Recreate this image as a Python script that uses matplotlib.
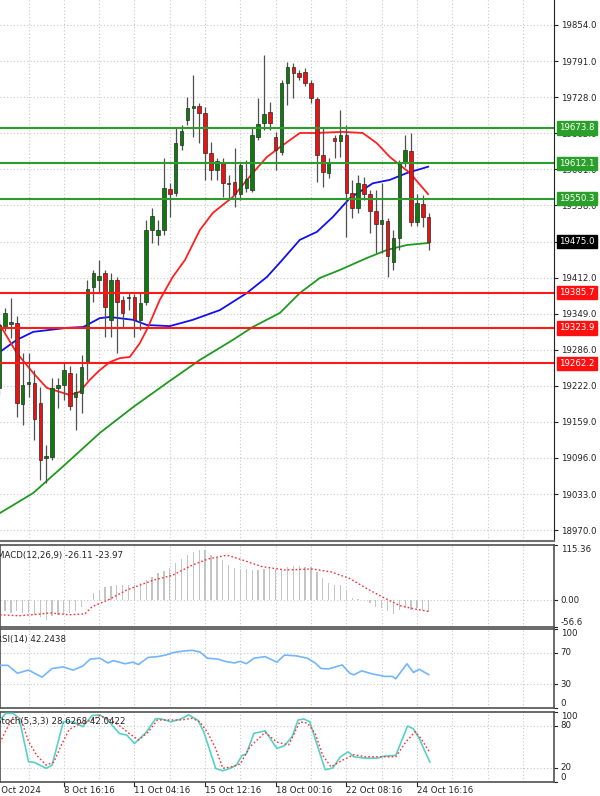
import matplotlib
matplotlib.use("Agg")
import matplotlib.pyplot as plt
from matplotlib.patches import Rectangle

plt.rcParams['font.family'] = 'DejaVu Sans'

# candle data, first candle is the one cut at the left edge (index -1)
opens = [19219, 19323.8, 19331, 19332.5, 19190.8, 19226, 19227.5, 19192.5, 19096, 19098,
         19218.8, 19224, 19245, 19203, 19210, 19262.5, 19395.5, 19408, 19420, 19337.8,
         19407.8, 19372.8, 19376, 19378, 19337.8, 19369, 19495, 19486.5, 19495, 19567,
         19560, 19644, 19687.8, 19708.8, 19712.3, 19700, 19630, 19600, 19612.5, 19578,
         19579, 19558, 19568.8, 19565, 19658, 19682.5, 19701.8, 19658, 19631.8, 19752.5,
         19780.5, 19770, 19771.8, 19752.5, 19724.5, 19626.5, 19595, 19656, 19651, 19661.5,
         19560, 19533.8, 19575.8, 19558, 19528.5, 19505.8, 19511, 19439, 19481, 19612.5,
         19633.5, 19509, 19541, 19518]
highs = [19338, 19358.8, 19376, 19344.8, 19280, 19280, 19250, 19220.5, 19119, 19236,
         19236, 19262.5, 19257, 19245, 19276.5, 19407.8, 19425, 19442.8, 19425, 19420,
         19413, 19380, 19385, 19383, 19385, 19512.8, 19533.8, 19512.8, 19621, 19577.5,
         19675.5, 19679, 19728, 19766.5, 19717.5, 19710.5, 19649, 19621, 19621, 19591.5,
         19638.8, 19614, 19617.8, 19675.5, 19726, 19801.5, 19719, 19667, 19757.8, 19789.3,
         19787.5, 19775, 19778.8, 19758, 19728, 19675.5, 19621, 19661.5, 19705, 19679,
         19582.8, 19591.5, 19588, 19565, 19565, 19577.5, 19516, 19495, 19618, 19661.5,
         19665, 19558, 19556.5, 19525]
lows = [19206.5, 19318.5, 19306, 19168, 19154, 19203, 19127.8, 19057.8, 19052.5, 19092.8,
        19183.8, 19197.8, 19180, 19145, 19175, 19232.8, 19369, 19385, 19308, 19308,
        19280, 19325.5, 19355, 19308, 19320, 19364, 19472.5, 19469, 19486.5, 19518,
        19555, 19635, 19679, 19658, 19647.5, 19582.8, 19582.8, 19582.8, 19553, 19547.8,
        19535.5, 19547.8, 19561.8, 19561.8, 19652.8, 19670, 19670, 19600, 19626.5, 19714,
        19726, 19758, 19747, 19717.5, 19579, 19570.5, 19586, 19621, 19623, 19483,
        19516, 19525, 19547.8, 19490, 19455, 19455, 19413, 19425, 19460, 19605.5,
        19502, 19502, 19500.5, 19460]
closes = [19329, 19350, 19334, 19192.5, 19224, 19229, 19164.5, 19092.8, 19099, 19218.8,
          19224, 19250, 19187, 19211.8, 19255.5, 19392, 19420, 19415, 19360.5, 19407.8,
          19369, 19350, 19377, 19337.8, 19367.5, 19495, 19520, 19495, 19568.8, 19558,
          19647.5, 19668.5, 19708.8, 19712.3, 19700, 19630, 19600, 19616, 19577.5, 19576,
          19558, 19609, 19584.5, 19661.5, 19680.8, 19698.3, 19682.5, 19635, 19752.5, 19780.5,
          19770, 19763, 19752.5, 19726, 19626.5, 19596.8, 19614.3, 19651, 19661.5, 19560,
          19533.8, 19577.5, 19558, 19528.5, 19505.8, 19512.8, 19449.8, 19481, 19612.5, 19635,
          19509, 19542.5, 19518, 19475]

# moving averages (candle index, price)
ma_red_x = [-0.85, 2.0, 4.8, 7.1, 11.0, 12.7, 14.4, 16.1, 17.8, 19.5, 21.2, 22.9, 24.3, 26.3,
            28.5, 30.6, 33.1, 35.3, 38.7, 42.1, 44.5, 46.7, 50.1, 52.7, 57.4, 60.8, 63.2,
            65.4, 67.1, 68.8, 71.9]
ma_red_y = [19329, 19280, 19245, 19219, 19206.5, 19212, 19233, 19250, 19264, 19271, 19273,
            19297, 19325, 19373, 19413, 19443, 19495, 19525, 19553, 19595, 19623, 19640,
            19665, 19665, 19667, 19665, 19647, 19623, 19609, 19595, 19558]
ma_blue_x = [-0.85, 2.0, 4.8, 10.5, 13.3, 16.1, 17.8, 21.8, 24.1, 28.0, 31.9, 36.5, 41.1,
             44.5, 46.7, 50.1, 53.0, 55.7, 58.6, 62.5, 65.4, 68.3, 71.9]
ma_blue_y = [19282, 19303, 19317, 19324, 19325.5, 19341, 19343, 19338, 19329, 19327, 19338,
             19355, 19385, 19413, 19438, 19478, 19492, 19518, 19551, 19577, 19583, 19595,
             19606]
ma_green_x = [-0.85, 4.8, 10.5, 16.1, 21.8, 27.5, 33.1, 38.7, 42.1, 46.7, 50.1, 53.5, 56.9,
              61.5, 64.9, 68.3, 71.9]
ma_green_y = [19000, 19035, 19087.5, 19140, 19185.5, 19227.5, 19267.8, 19302.8, 19325.5,
              19350, 19385, 19411.3, 19425.3, 19446.3, 19460.3, 19469, 19472.5]

resistance = [19673.8, 19612.1, 19550.3]
support = [19385.7, 19323.9, 19262.2]
last_price = 19475.0

price_ticks = [18970, 19033.1, 19096.3, 19159.4, 19222.6, 19285.7, 19348.9, 19412,
               19475.1, 19538.3, 19601.4, 19664.6, 19727.7, 19790.9, 19854]
price_labels = ['18970.0', '19033.0', '19096.0', '19159.0', '19222.0', '19286.0', '19349.0',
                '19412.0', '19475.0', '19538.0', '19601.0', '19665.0', '19728.0', '19791.0',
                '19854.0']

# MACD histogram, one per candle 0..72
macd_hist = [-24, -27, -24, -27, -28, -31, -36, -42, -33, -31, -29, -27, -24, -14, -2, 14,
             21, 28, 29, 31, 31, 32, 31, 35, 42, 49, 56, 61, 67, 77, 86, 94, 101, 105, 104,
             94, 88, 84, 73, 67, 65, 65, 63, 63, 65, 67, 65, 63, 70, 71, 71, 70, 70, 59, 46,
             35, 31, 31, 21, 4, 2, 0, -7, -14, -17, -24, -29, -21, -17, -21, -17, -21, -26]
macd_sig_x = [-0.85, 2.4, 5.6, 7.6, 10.9, 13.6, 14.8, 17.5, 20.7, 25.3, 28.5, 31.8, 34.5,
              37.7, 39.6, 43.7, 47.6, 52.2, 55.4, 58.6, 61.9, 64.6, 67.1, 69.7, 72]
macd_sig_y = [-31, -33, -30, -27, -31, -29, -14, 0, 21, 42, 52, 73, 86, 94, 87, 70, 63, 65,
              59, 45, 21, 3.5, -12, -19, -24]

rsi_x = [-0.85, 0.5, 2.1, 4.0, 6.3, 8.0, 9.9, 11.6, 13.2, 14.5, 16.1, 17.5, 18.4, 20.4, 21.7,
         22.7, 24.3, 25.9, 27.3, 28.5, 30.2, 31.8, 33.1, 34.4, 36.1, 37.4, 39.0, 40.0, 41.0,
         42.3, 44.2, 46.2, 47.5, 49.5, 51.4, 52.7, 53.7, 55.0, 57.3, 58.6, 59.3, 60.6, 62.5,
         64.5, 65.8, 66.4, 68.3, 69.4, 70.4, 72]
rsi_y = [54, 54, 44, 48, 39, 50, 52, 48, 53, 62, 63, 57, 60, 56, 58, 55, 64, 65, 67, 70, 72,
         73, 71, 63, 62, 59, 57, 59, 56, 63, 65, 58, 67, 66, 63, 57, 50, 49.5, 54.5, 44, 42,
         47, 43, 40, 40, 37, 56, 45, 49, 42.2]

stoch_x = [-0.85, 0.1, 1.4, 2.4, 4.0, 5.0, 7.0, 8.0, 9.9, 11.6, 13.2, 14.8, 16.1, 17.5, 19.4,
           20.7, 22.0, 24.0, 25.6, 26.6, 28.2, 29.9, 31.2, 32.8, 33.8, 35.8, 37.0, 38.4, 39.3,
           40.3, 41.0, 42.3, 44.2, 46.2, 47.5, 48.8, 49.8, 50.8, 51.8, 52.7, 54.4, 55.7, 57.0,
           58.3, 59.3, 61.2, 63.2, 64.5, 66.4, 68.4, 69.4, 70.4, 71.4, 72.2]
stoch_k = [88.6, 98, 98, 91, 29, 28, 19.5, 24, 86, 86, 79, 95, 96, 88, 69.5, 67, 55, 71, 90.5,
           90, 86, 90, 96, 88, 71, 19.5, 16, 20, 24, 38, 40, 69.5, 73, 48, 52, 65, 88.6, 90,
           86, 62, 17.6, 20, 36, 43, 36, 34, 34, 37, 38, 80, 76, 62, 43, 28.6]
stoch_sig_x = [-0.85, 0.1, 1.4, 2.7, 4.0, 5.4, 7.0, 8.3, 9.6, 10.9, 12.9, 14.8, 16.1, 18.1,
               19.7, 21.0, 22.7, 24.3, 25.9, 27.9, 29.9, 31.8, 33.1, 34.4, 35.8, 37.0, 38.7,
               40.0, 41.6, 44.2, 46.2, 48.2, 50.1, 51.4, 52.7, 54.0, 55.4, 57.3, 59.3, 61.2,
               63.2, 65.2, 66.4, 68.1, 69.7, 70.7, 72.2]
stoch_d = [56, 73, 93, 90, 58, 38, 24, 28.6, 53, 75, 84, 88.6, 95, 88, 79, 70, 60, 71, 88.6,
           88.6, 88.6, 91, 86, 71, 48, 19.5, 22, 26, 50, 71, 57, 53, 86, 84, 69.5, 38, 21.6,
           31, 39, 36, 36, 36, 36, 57, 72, 62, 42]

time_pos = [-2, 10, 22, 34, 46, 58, 70]
time_labels = ['7 Oct 2024', '8 Oct 16:16', '11 Oct 04:16', '15 Oct 12:16', '18 Oct 00:16',
               '22 Oct 08:16', '24 Oct 16:16']

FS = 6.2
GRID = dict(color='#c8c8c8', lw=0.8, ls=(0, (1, 2)), zorder=0)
XL = (-0.85, 93.29)
vgrid = list(range(4, 92, 6))

fig = plt.figure(figsize=(6, 7.96), dpi=100)
W = 554 / 600
ax = fig.add_axes([0, 1 - 541 / 796, W, 541 / 796])
ax_macd = fig.add_axes([0, 1 - 627 / 796, W, 82 / 796])
ax_rsi = fig.add_axes([0, 1 - 708 / 796, W, 79 / 796])
ax_st = fig.add_axes([0, 1 - 782 / 796, W, 70 / 796])

# ---- main chart
ax.set_xlim(*XL)
ax.set_ylim(18951, 19897.75)
for g in vgrid:
    ax.axvline(g, **GRID)
for p in price_ticks:
    ax.axhline(p, **GRID)

ax.plot(ma_green_x, ma_green_y, color='#1f9a1f', lw=1.3, zorder=2)
ax.plot(ma_blue_x, ma_blue_y, color='#1010f0', lw=1.3, zorder=2)
ax.plot(ma_red_x, ma_red_y, color='#ff2020', lw=1.3, zorder=2)

for i in range(len(opens)):
    k = i - 1
    o, h, l, c = opens[i], highs[i], lows[i], closes[i]
    ax.vlines(k, l, h, color='#505050', lw=0.9, zorder=3)
    bottom, top = min(o, c), max(o, c)
    col = '#0b7d0b' if c >= o else '#ee1111'
    ax.add_patch(Rectangle((k - 0.3, bottom), 0.6, max(top - bottom, 1.5),
                           facecolor=col, edgecolor='#2a2a2a', lw=0.5, zorder=4))

for p in resistance:
    ax.axhline(p, color='#2c9c2c', lw=1.5, zorder=5)
for p in support:
    ax.axhline(p, color='#ff1a1a', lw=1.5, zorder=5)

ax.yaxis.tick_right()
ax.set_yticks(price_ticks)
ax.set_yticklabels(price_labels)
ax.tick_params(axis='y', direction='out', length=3, pad=2, labelsize=FS,
               colors='#222222')
ax.set_xticks([])
for s in ['left', 'top']:
    ax.spines[s].set_visible(False)
ax.spines['right'].set_color('#222222')
ax.spines['bottom'].set_color('#707070')
ax.spines['bottom'].set_linewidth(1.5)

ytr = ax.get_yaxis_transform()
for p in resistance:
    ax.text(1.009, p, f'{p:.1f}', transform=ytr, fontsize=FS, color='white', va='center',
            bbox=dict(boxstyle='square,pad=0.25', fc='#2aa02a', ec='#2aa02a'),
            zorder=10, clip_on=False)
for p in support:
    ax.text(1.009, p, f'{p:.1f}', transform=ytr, fontsize=FS, color='white', va='center',
            bbox=dict(boxstyle='square,pad=0.25', fc='#ff0f0f', ec='#ff0f0f'),
            zorder=10, clip_on=False)
ax.text(1.009, last_price, f'{last_price:.1f}', transform=ytr, fontsize=FS, color='white',
        va='center', bbox=dict(boxstyle='square,pad=0.25', fc='black', ec='black'),
        zorder=10, clip_on=False)


def sub_panel(a, lo, hi, labels):
    a.set_xlim(*XL)
    a.set_ylim(lo, hi)
    for g in vgrid:
        a.axvline(g, **GRID)
    a.set_yticks([])
    a.set_xticks([])
    for s in a.spines.values():
        s.set_color('#505050')
        s.set_linewidth(1.2)
    tr = a.get_yaxis_transform()
    for val, txt, va in labels:
        a.plot([1.0, 1.006], [val, val], transform=tr, color='#222222', lw=0.8,
               clip_on=False)
        a.text(1.012, val, txt, transform=tr, fontsize=FS, color='#222222', va=va,
               clip_on=False)


# ---- MACD
sub_panel(ax_macd, -56.6, 115.36, [(115.36, '115.36', 'top'), (0, '0.00', 'center'),
                                   (-56.6, '-56.6', 'bottom')])
ax_macd.axhline(0, **GRID)
ax_macd.bar(range(len(macd_hist)), macd_hist, width=0.22, color='#c4c4c4', zorder=2)
ax_macd.plot(macd_sig_x, macd_sig_y, color='#ff3030', lw=1.0, ls=(0, (1.2, 1.6)), zorder=3)
ax_macd.text(-0.006, 0.93, 'MACD(12,26,9) -26.11 -23.97', transform=ax_macd.transAxes,
             fontsize=FS, color='#222222', va='top', ha='left')

# ---- RSI
sub_panel(ax_rsi, 0, 100, [(100, '100', 'top'), (70, '70', 'center'), (30, '30', 'center'),
                           (0, '0', 'bottom')])
ax_rsi.axhline(70, **GRID)
ax_rsi.axhline(30, **GRID)
ax_rsi.plot(rsi_x, rsi_y, color='#72b6ff', lw=1.2, zorder=3)
ax_rsi.text(-0.008, 0.93, 'RSI(14) 42.2438', transform=ax_rsi.transAxes,
            fontsize=FS, color='#222222', va='top', ha='left')

# ---- Stochastic
sub_panel(ax_st, 0, 100, [(100, '100', 'top'), (80, '80', 'center'), (20, '20', 'center'),
                          (0, '0', 'bottom')])
ax_st.axhline(80, **GRID)
ax_st.axhline(20, **GRID)
ax_st.plot(stoch_x, stoch_k, color='#55d2c8', lw=1.2, zorder=3)
ax_st.plot(stoch_sig_x, stoch_d, color='#ff3030', lw=1.0, ls=(0, (1.2, 1.6)), zorder=3)
ax_st.text(-0.007, 0.93, 'Stoch(5,3,3) 28.6268 42.0422', transform=ax_st.transAxes,
           fontsize=FS, color='#222222', va='top', ha='left')

xtr = ax_st.get_xaxis_transform()
for pos, lab in zip(time_pos, time_labels):
    ax_st.plot([pos, pos], [0, -0.06], transform=xtr, color='#222222', lw=0.8, clip_on=False)
    ax_st.text(pos, -0.06, lab, transform=xtr, fontsize=FS, color='#222222', ha='left',
               va='top', clip_on=False)

fig.savefig('out.png', dpi=100)
